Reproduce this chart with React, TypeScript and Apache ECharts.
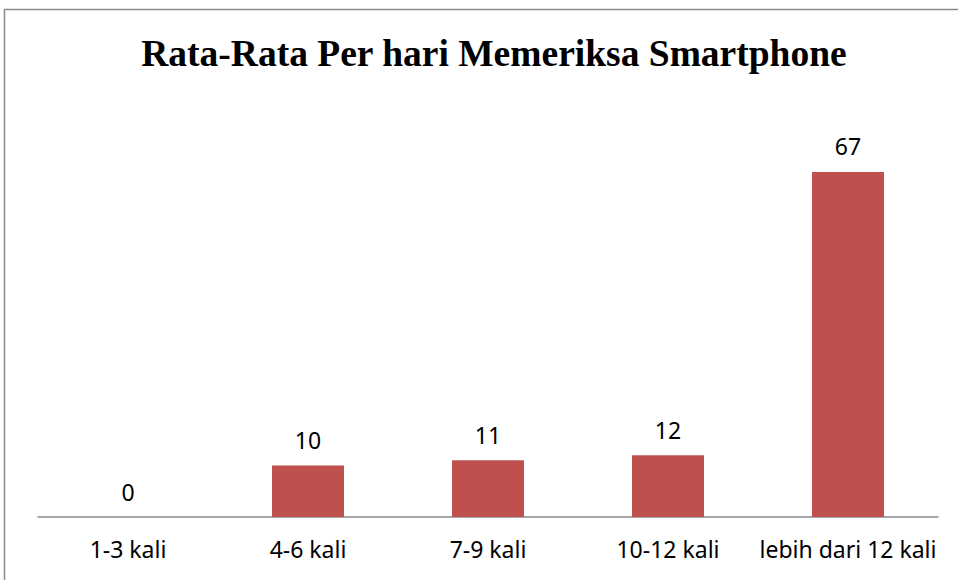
import React, { useEffect, useRef } from "react";
import * as echarts from "echarts";

const titleText = "Rata-Rata Per hari Memeriksa Smartphone";
const categories = ["1-3 kali", "4-6 kali", "7-9 kali", "10-12 kali", "lebih dari 12 kali"];
const values = [0, 10, 11, 12, 67];

export default function App() {
  const ref = useRef<HTMLDivElement>(null);
  useEffect(() => {
    if (!ref.current) return;
    const chart = echarts.init(ref.current, undefined, { renderer: "svg" });
    chart.setOption({
      animation: false,
      backgroundColor: "#ffffff",
      graphic: [
        {
          type: "rect",
          shape: { x: 4.5, y: 9.5, width: 1000, height: 1000 },
          style: { fill: "none", stroke: "#8a8a8a", lineWidth: 1.5 },
          z: 0,
        },
        {
          type: "text",
          x: 494,
          y: 53,
          style: {
            text: titleText,
            font: "bold 37.5px 'Liberation Serif', 'Times New Roman', serif",
            fill: "#000000",
            textAlign: "center",
            textVerticalAlign: "middle",
          },
        },
      ],
      grid: { left: 38, right: 20, top: 105, bottom: 63, containLabel: false },
      xAxis: {
        type: "category",
        data: categories,
        axisLine: { show: true, lineStyle: { color: "#8a8a8a", width: 1.5 } },
        axisTick: { show: false },
        axisLabel: {
          color: "#000000",
          fontSize: 23,
          fontFamily: "'Noto Sans', sans-serif",
          margin: 20,
          interval: 0,
        },
      },
      yAxis: {
        type: "value",
        min: 0,
        max: 80,
        show: false,
        splitLine: { show: false },
      },
      series: [
        {
          type: "bar",
          data: values,
          barWidth: 72,
          itemStyle: { color: "#c0504d" },
          label: {
            show: true,
            position: "top",
            distance: 14,
            color: "#000000",
            fontSize: 23,
            fontFamily: "'Noto Sans', sans-serif",
          },
        },
      ],
    });
    return () => chart.dispose();
  }, []);
  return (
    <div
      ref={ref}
      style={{ position: "fixed", left: 0, top: 0, width: 958, height: 580 }}
    />
  );
}
